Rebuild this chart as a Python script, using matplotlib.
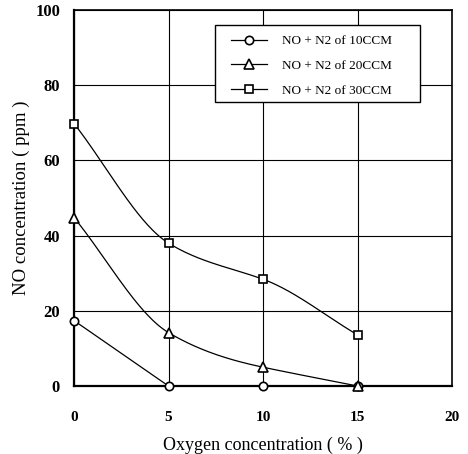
import numpy as np
import matplotlib
matplotlib.use("Agg")
import matplotlib.pyplot as plt
from matplotlib.patches import Rectangle

oxygen = [0, 5, 10, 15]
no_10ccm = [17.4, 0.0, 0.0, 0.0]
no_20ccm = [44.8, 14.2, 5.0, 0.0]
no_30ccm = [69.8, 38.0, 28.4, 13.6]
labels = ["NO + N2 of 10CCM", "NO + N2 of 20CCM", "NO + N2 of 30CCM"]
xticks = [0, 5, 10, 15, 20]
yticks = [0, 20, 40, 60, 80, 100]


def smooth(x, y, c=0.75, n=60):
    """Cardinal (Hermite) spline through the data points for drawing."""
    x = np.asarray(x, float)
    y = np.asarray(y, float)
    h = np.diff(x)
    d = np.diff(y) / h
    m = np.zeros_like(y)
    m[0] = d[0]
    m[-1] = d[-1]
    for k in range(1, len(x) - 1):
        m[k] = c * (y[k + 1] - y[k - 1]) / (x[k + 1] - x[k - 1])
    xs_all, ys_all = [], []
    for k in range(len(x) - 1):
        t = np.linspace(0, 1, n)
        h00 = 2 * t**3 - 3 * t**2 + 1
        h10 = t**3 - 2 * t**2 + t
        h01 = -2 * t**3 + 3 * t**2
        h11 = t**3 - t**2
        xs_all.append(x[k] + t * h[k])
        ys_all.append(h00 * y[k] + h10 * h[k] * m[k] + h01 * y[k + 1]
                      + h11 * h[k] * m[k + 1])
    return np.concatenate(xs_all), np.concatenate(ys_all)


plt.rcParams['font.family'] = ['Liberation Serif', 'DejaVu Serif']

fig = plt.figure(figsize=(4.68, 4.54), dpi=100)
ax = fig.add_axes([74 / 468, 68 / 454, 378 / 468, 376 / 454])

ax.set_xlim(0, 20)
ax.set_ylim(0, 100)
ax.set_xticks(xticks)
ax.set_yticks(yticks)
ax.grid(True, color='black', linewidth=0.8)
ax.set_axisbelow(True)

lw = 0.9
ms = 6
mkw = dict(markerfacecolor='white', markeredgecolor='black', markeredgewidth=1.2)

# 10 CCM: straight segments
ax.plot(oxygen, no_10ccm, color='black', linewidth=lw, zorder=3)
ax.plot(oxygen, no_10ccm, linestyle='none', marker='o', markersize=ms,
        zorder=4, clip_on=False, **mkw)
h1, = ax.plot([], [], color='black', linewidth=lw, marker='o', markersize=ms, **mkw)

xs, ys = smooth(oxygen, no_20ccm)
ax.plot(xs, ys, color='black', linewidth=lw, zorder=3)
ax.plot(oxygen, no_20ccm, linestyle='none', marker='^', markersize=ms + 1,
        zorder=5, clip_on=False, **mkw)
h2, = ax.plot([], [], color='black', linewidth=lw, marker='^', markersize=ms + 1, **mkw)

xs, ys = smooth(oxygen, no_30ccm)
ax.plot(xs, ys, color='black', linewidth=lw, zorder=3)
ax.plot(oxygen, no_30ccm, linestyle='none', marker='s', markersize=ms,
        zorder=4, clip_on=False, **mkw)
h3, = ax.plot([], [], color='black', linewidth=lw, marker='s', markersize=ms, **mkw)

ax.tick_params(length=0)
ax.tick_params(axis='y', pad=10)
ax.tick_params(axis='x', pad=18)
for lab in ax.get_xticklabels():
    lab.set_fontweight('bold')
    lab.set_fontsize(11)
for lab in ax.get_yticklabels():
    lab.set_fontweight('bold')
    lab.set_fontsize(12)

for side in ['left', 'bottom']:
    ax.spines[side].set_linewidth(1.6)
for side in ['top', 'right']:
    ax.spines[side].set_linewidth(1.2)

ax.set_xlabel("Oxygen concentration ( % )", fontsize=13, labelpad=9)
ax.set_ylabel("NO concentration ( ppm )", fontsize=13.5, labelpad=4)

# legend frame (box drawn separately to match the wide right margin)
bx0, bx1 = (215 - 74) / 378, (420 - 74) / 378
by0, by1 = (386 - 102) / 376, (386 - 25) / 376
ax.add_patch(Rectangle((bx0, by0), bx1 - bx0, by1 - by0, transform=ax.transAxes,
                       facecolor='white', edgecolor='black', linewidth=1.0,
                       zorder=9, clip_on=False))
leg = ax.legend([h1, h2, h3], labels, loc='upper left',
                bbox_to_anchor=((231 - 74) / 378, (386 - 35) / 376),
                fontsize=9.5, frameon=False,
                handlelength=2.7, borderpad=0, labelspacing=0.95,
                handletextpad=1.2, borderaxespad=0)
leg.set_zorder(10)

fig.savefig("out.png", dpi=100)
